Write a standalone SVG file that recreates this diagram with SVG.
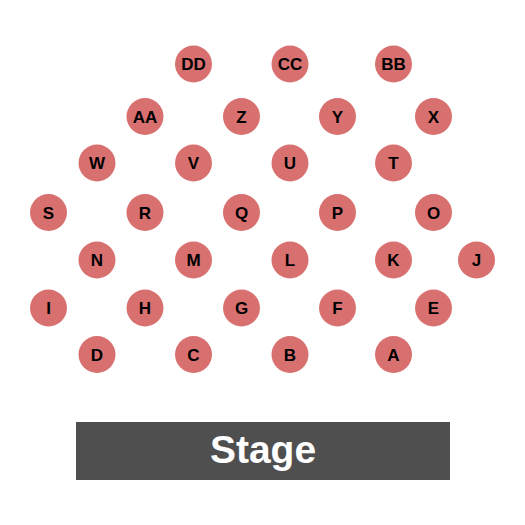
<svg xmlns="http://www.w3.org/2000/svg" width="525" height="525" viewBox="0 0 525 525">
<style>
.s circle{fill:#d97070}
.s text{font-family:"Liberation Sans",Arial,sans-serif;font-weight:bold;font-size:17px;fill:#000;text-anchor:middle}
.st text{font-family:"Liberation Sans",Arial,sans-serif;font-weight:bold;font-size:39px;fill:#fff;text-anchor:middle}
</style>
<rect width="525" height="525" fill="#fff"/>
<g id="stage" class="st"><rect x="76" y="422" width="374" height="58" fill="#4f4f4f"/><text x="263" y="463">Stage</text></g>
<g id="connectors"/>
<g class="s">
<g id="DD"><circle cx="193.5" cy="64" r="18.5"/><text x="193.5" y="70">DD</text></g>
<g id="CC"><circle cx="290" cy="64" r="18.5"/><text x="290" y="70">CC</text></g>
<g id="BB"><circle cx="393.5" cy="64" r="18.5"/><text x="393.5" y="70">BB</text></g>
<g id="AA"><circle cx="145" cy="116.5" r="18.5"/><text x="145" y="122.5">AA</text></g>
<g id="Z"><circle cx="241.5" cy="116.5" r="18.5"/><text x="241.5" y="122.5">Z</text></g>
<g id="Y"><circle cx="337.5" cy="116.5" r="18.5"/><text x="337.5" y="122.5">Y</text></g>
<g id="X"><circle cx="433.5" cy="116.5" r="18.5"/><text x="433.5" y="122.5">X</text></g>
<g id="W"><circle cx="97" cy="163" r="18.5"/><text x="97" y="169">W</text></g>
<g id="V"><circle cx="193.5" cy="163" r="18.5"/><text x="193.5" y="169">V</text></g>
<g id="U"><circle cx="290" cy="163" r="18.5"/><text x="290" y="169">U</text></g>
<g id="T"><circle cx="393.5" cy="163" r="18.5"/><text x="393.5" y="169">T</text></g>
<g id="S"><circle cx="48.5" cy="212.5" r="18.5"/><text x="48.5" y="218.5">S</text></g>
<g id="R"><circle cx="145" cy="212.5" r="18.5"/><text x="145" y="218.5">R</text></g>
<g id="Q"><circle cx="241.5" cy="212.5" r="18.5"/><text x="241.5" y="218.5">Q</text></g>
<g id="P"><circle cx="337.5" cy="212.5" r="18.5"/><text x="337.5" y="218.5">P</text></g>
<g id="O"><circle cx="433.5" cy="212.5" r="18.5"/><text x="433.5" y="218.5">O</text></g>
<g id="N"><circle cx="97" cy="260" r="18.5"/><text x="97" y="266">N</text></g>
<g id="M"><circle cx="193.5" cy="260" r="18.5"/><text x="193.5" y="266">M</text></g>
<g id="L"><circle cx="290" cy="260" r="18.5"/><text x="290" y="266">L</text></g>
<g id="K"><circle cx="393.5" cy="260" r="18.5"/><text x="393.5" y="266">K</text></g>
<g id="J"><circle cx="476.5" cy="260" r="18.5"/><text x="476.5" y="266">J</text></g>
<g id="I"><circle cx="48.5" cy="308" r="18.5"/><text x="48.5" y="314">I</text></g>
<g id="H"><circle cx="145" cy="308" r="18.5"/><text x="145" y="314">H</text></g>
<g id="G"><circle cx="241.5" cy="308" r="18.5"/><text x="241.5" y="314">G</text></g>
<g id="F"><circle cx="337.5" cy="308" r="18.5"/><text x="337.5" y="314">F</text></g>
<g id="E"><circle cx="433.5" cy="308" r="18.5"/><text x="433.5" y="314">E</text></g>
<g id="D"><circle cx="97" cy="354.5" r="18.5"/><text x="97" y="360.5">D</text></g>
<g id="C"><circle cx="193.5" cy="354.5" r="18.5"/><text x="193.5" y="360.5">C</text></g>
<g id="B"><circle cx="290" cy="354.5" r="18.5"/><text x="290" y="360.5">B</text></g>
<g id="A"><circle cx="393.5" cy="354.5" r="18.5"/><text x="393.5" y="360.5">A</text></g>
</g>
</svg>
